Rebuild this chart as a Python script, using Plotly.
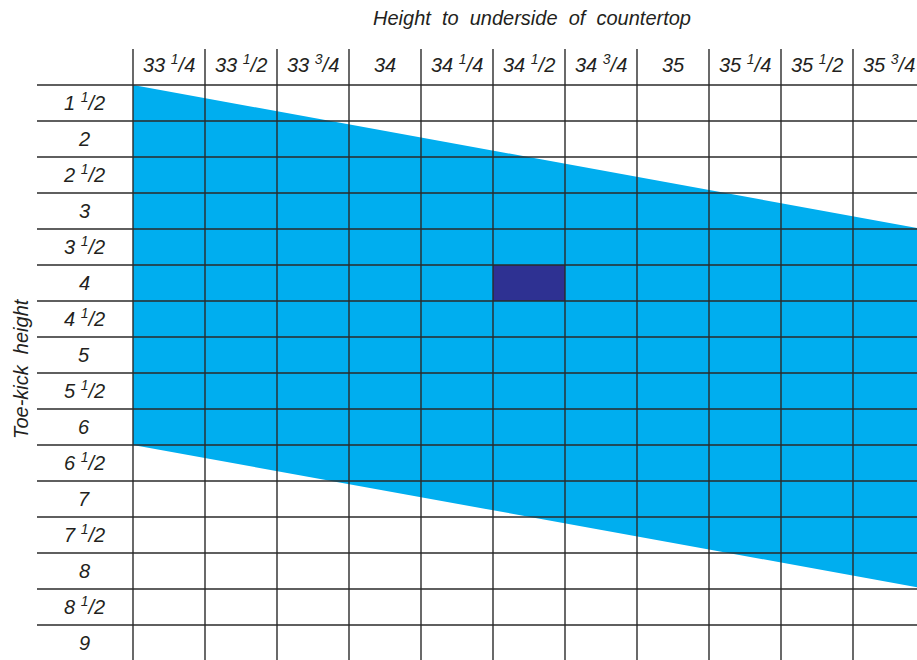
import plotly.graph_objects as go

# ---- data ----
col_labels = ["33 <sup>1</sup>/4", "33 <sup>1</sup>/2", "33 <sup>3</sup>/4", "34",
              "34 <sup>1</sup>/4", "34 <sup>1</sup>/2", "34 <sup>3</sup>/4", "35",
              "35 <sup>1</sup>/4", "35 <sup>1</sup>/2", "35 <sup>3</sup>/4"]
row_labels = ["1 <sup>1</sup>/2", "2", "2 <sup>1</sup>/2", "3", "3 <sup>1</sup>/2", "4",
              "4 <sup>1</sup>/2", "5", "5 <sup>1</sup>/2", "6", "6 <sup>1</sup>/2", "7",
              "7 <sup>1</sup>/2", "8", "8 <sup>1</sup>/2", "9"]
# recommended band (in row units) at left edge and right edge of the grid
band_cols = [0.0, 10.89]
band_top = [0.0, 3.97]
band_bottom = [10.0, 13.95]
# highlighted combination (column index, row index)
highlight_col = 5   # 34 1/2
highlight_row = 5   # 4

ncol = len(col_labels)
nrow = len(row_labels)

LIGHT = "#00AEEF"
DARK = "#2E3192"
GRID = "#2a2a2a"
FONT = "Liberation Sans"
TXT = "#231f20"

fig = go.Figure()

# band polygon
px_ = band_cols + band_cols[::-1]
py_ = band_top + band_bottom[::-1]
fig.add_trace(go.Scatter(x=px_ + [px_[0]], y=py_ + [py_[0]], mode="lines",
                         fill="toself", fillcolor=LIGHT, line=dict(width=0),
                         hoverinfo="skip", showlegend=False))
# highlighted cell
hx = [highlight_col, highlight_col + 1, highlight_col + 1, highlight_col, highlight_col]
hy = [highlight_row, highlight_row, highlight_row + 1, highlight_row + 1, highlight_row]
fig.add_trace(go.Scatter(x=hx, y=hy, mode="lines", fill="toself", fillcolor=DARK,
                         line=dict(width=0), hoverinfo="skip", showlegend=False))

shapes = []
for i in range(ncol + 1):
    shapes.append(dict(type="line", xref="x", yref="y domain", x0=i, x1=i, y0=0, y1=1,
                       line=dict(color=GRID, width=1.4), layer="above"))
for j in range(nrow + 1):
    shapes.append(dict(type="line", xref="x domain", yref="y", x0=0, x1=1, y0=j, y1=j,
                       line=dict(color=GRID, width=1.4), layer="above"))

lab_font = dict(family=FONT, size=20, color=TXT, style="italic")
annotations = []
for i, lab in enumerate(col_labels):
    annotations.append(dict(x=i + 0.5, y=-0.55, xref="x", yref="y", text=lab, showarrow=False,
                            font=lab_font, xanchor="center", yanchor="middle",
                            yshift=2 if "<sup>" in lab else 0))
for j, lab in enumerate(row_labels):
    annotations.append(dict(x=-0.68, y=j + 0.5, xref="x", yref="y", text=lab, showarrow=False,
                            font=lab_font, xanchor="center", yanchor="middle",
                            yshift=2 if "<sup>" in lab else 0))

title_font = dict(family=FONT, size=20, color=TXT, style="italic")
annotations.append(dict(x=(532 - 37) / 880, y=1 + (49 - 18) / 611, xref="paper", yref="paper",
                        text="Height\u00a0 to\u00a0 underside\u00a0 of\u00a0 countertop",
                        showarrow=False, xanchor="center", yanchor="middle", font=title_font))
annotations.append(dict(x=(21 - 37) / 880, y=(660 - 369) / 611, xref="paper", yref="paper",
                        text="Toe-kick\u00a0 height", textangle=-90, showarrow=False,
                        xanchor="center", yanchor="middle", font=title_font))

fig.update_layout(
    width=917, height=660,
    margin=dict(l=37, r=0, t=49, b=0),
    paper_bgcolor="white", plot_bgcolor="white",
    xaxis=dict(range=[-96 / 72, 784 / 72], visible=False, fixedrange=True),
    yaxis=dict(range=[(660 - 85) / 36, -1], visible=False, fixedrange=True),
    shapes=shapes,
    annotations=annotations,
)

fig.write_html("out.html", config={"displayModeBar": False},
               post_script="document.body.style.margin='0';document.body.style.overflow='hidden';")
